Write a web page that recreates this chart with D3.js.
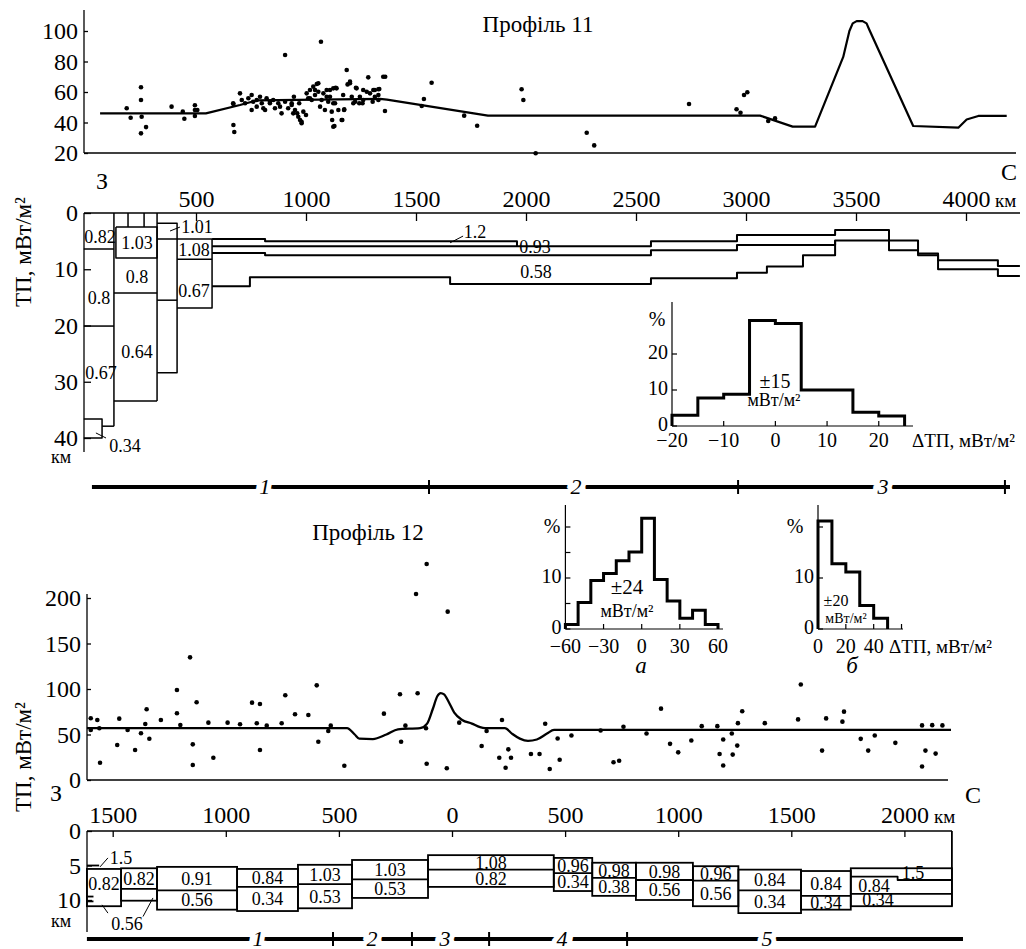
<!DOCTYPE html>
<html lang="uk">
<head>
<meta charset="UTF-8">
<title>Профіль 11, Профіль 12</title>
<script src="https://d3js.org/d3.v7.min.js"></script>
<style>
  body { margin: 0; background: #fff; }
  svg text { font-family: "Liberation Serif", "Times New Roman", serif; fill: #000; }
</style>
</head>
<body>
<div id="chart"></div>
<script>
// ---------- Profile 11 ----------
// heat flow points [km, mW/m2]
const p11Points = [
  [185,49.3],[203,43.1],[250,63.1],[250,54.8],[253,43.8],[250,32.9],[273,37],[389,50.4],[440,47.1],[447,42.5],
  [495,51.3],[495,48.2],[495,44.3],[506,48.2],[670,52.1],[670,38.4],[674,33.8],[700,59.1],[905,84.3],[1068,93],
  [1185,74.4],[1200,66.8],[1283,69.6],[1351,70],[1360,70],[1359,47.5],[1526,50.8],[1536,55.4],[1571,66.1],[1719,44.5],
  [1778,37.9],[1124,37.2],[1162,41.6],[1174,48.6],[1227,62.8],[1245,56.9],[1329,61.8],
  [1980,61.8],[1988,54.8],[2044,19.8],[2276,33.3],[2310,25],[2741,52.1],[2957,48.7],[2975,46.4],[2991,58],[3006,59.8],
  [3101,41],[3132,42.7],
  [669,52.6],[708,54.8],[723,52.6],[738,55.9],[753,58],[753,48.2],[760,53.6],[776,50.4],[791,56.9],[799,52.6],
  [814,48.2],[821,55.9],[836,52.6],[851,54.8],[859,49.3],[874,52.6],[889,46],[905,53.6],[919,49.3],[935,52.6],
  [945,56.9],[950,48.2],[960,46],[969,52.6],[973,41.6],[980,39.5],[988,47.1],[1000,44.9],[1003,59.1],[1010,55.9],
  [1018,61.3],[1026,54.8],[1033,63.5],[1049,65.2],[1041,58],[1056,60.2],[1064,50.4],[1071,54.8],[1079,59.1],[1086,48.2],
  [1094,61.3],[1101,53.6],[1109,56.9],[1117,47.1],[1124,62.4],[1132,52.6],[1135,62.8],[1119,41.6],[1129,37.7],[1165,41.6],
  [1173,48.2],[1169,58],[1189,65],[1200,65.7],[1208,56.9],[1223,53.6],[1230,62.4],[1242,52.6],[1257,52.6],[1260,61.3],
  [1276,60.2],[1291,59.1],[1303,53.6],[1313,61.3],[1329,58],[1333,62],[1313,56.9],
  [776,54.8],[806,49.3],[836,53.6],[882,50.4],[935,51.5],[942,46],[965,43.8],[980,40.5],[1018,55.9],[1041,61.3],
  [1056,65.7],[1094,56.9],[1109,61.3],[1124,52.6],[1139,62.4],[1147,48.2],[1215,52.6],[1260,54.8],[1306,61.3],[1329,54.8]
];
// model curve
const p11Curve = [
  [64,46],[545,46],[700,51.5],[777,54.5],[1336,55.5],[1368,55],[1827,44.5],[3064,44.5],[3212,37.3],[3314,37.3],
  [3442,83],[3470,100],[3485,105],[3503,106.5],[3530,106.5],[3548,105],[3560,101],[3760,37.7],[3965,36.6],[4003,42],
  [4056,44.3],[4185,44.3]
];
const p11DistTicks = [500,1000,1500,2000,2500,3000,3500,4000];
const p11FlowTicks = [20,40,60,80,100];
const p11DepthTicks = [0,10,20,30,40];
// layer boundaries [km, depth km]
const p11Layers = [
  [[127,0],[127,37.9]],
  [[-10,6.4],[127,6.4]],
  [[-10,20.1],[127,20.1]],
  [[-10,36.6],[73,36.6],[73,40],[-10,40]],
  [[73,37.9],[127,37.9]],
  [[136,2.5],[323,2.5],[323,8.0],[136,8.0],[136,2.5]],
  [[191,0],[191,2.5]],[[264,0],[264,2.5]],[[323,0],[323,33.4]],
  [[127,14.2],[323,14.2]],[[127,33.4],[323,33.4]],
  [[323,1.8],[414,1.8],[414,28.4],[323,28.4]],
  [[323,15.5],[414,15.5]],
  [[323,4.6],[573,4.6]],
  [[414,8.2],[573,8.2]],
  [[573,4.6],[573,16.9],[414,16.9]]
];
const p11Deep = [
  [[573,4.6],[814,4.6],[814,5.0],[1959,5.0],[1959,5.9]],
  [[573,5.9],[2568,5.9],[2568,5.0],[2959,5.0],[2959,3.9],[3405,3.9],[3405,3.0],[3650,3.0],[3650,6.6],[3782,6.6],
   [3782,7.5],[3873,7.5],[3873,8.4],[4145,8.4],[4145,9.4],[4245,9.4]],
  [[573,7.1],[814,7.1],[814,7.5],[2568,7.5],[2568,6.6],[2959,6.6],[2959,5.7],[3405,5.7],[3405,4.9],[3782,4.9],
   [3782,7.2],[3873,7.2],[3873,10.0],[4145,10.0],[4145,11.2],[4245,11.2]],
  [[573,13.0],[745,13.0],[745,11.4],[1655,11.4],[1655,12.6],[2568,12.6],[2568,11.6],[2959,11.6],[2959,10.6],
   [3095,10.6],[3095,9.5],[3259,9.5],[3259,7.5],[3405,7.5],[3405,4.9]]
];
const p11LayerLabels = [
  [64,4.3,"0.82"],[232,5.2,"1.03"],[505,2.5,"1.01"],[232,11.4,"0.8"],[491,6.6,"1.08"],[59,15.1,"0.8"],
  [491,13.9,"0.67"],[232,24.7,"0.64"],[68,28.4,"0.67"],[177,41.4,"0.34"],[1768,3.4,"1.2"],[2041,6.0,"0.93"],
  [2045,10.5,"0.58"]
];
const p11Leaders = [
  [[382,3.2],[427,2.5]],[[1655,5.3],[1714,4.1]],[[45,39.1],[91,40]]
];
const p11HistEdges = [-20,-15,-10,-5,0,5,10,15,20,25];
const p11HistValues = [3.0,7.8,8.8,29.3,28.5,10,10,3.8,2.8];
const p11SegTicks = [1559,2964,4177];
const p11SegLabels = [[813,"1"],[2227,"2"],[3623,"3"]];
const p11SegExtent = [27,4200];

// ---------- Profile 12 ----------
const p12Points = [
  [-1597,67.8],[-1597,55],[-1568,66],[-1559,56.8],[-1556,19],[-1480,38.5],[-1471,67.4],[-1434,55],[-1401,33],[-1375,51.3],
  [-1356,61.5],[-1350,77.7],[-1338,45.4],[-1287,66],[-1216,98.9],[-1216,73.3],[-1201,60.4],[-1158,134.8],[-1146,39.2],[-1146,16.5],
  [-1129,85.4],[-1077,63],[-1055,24.5],[-992,63],[-937,61.2],[-884,85],[-863,62.3],[-849,83.5],[-849,33],[-819,59.7],
  [-753,62.3],[-737,93.1],[-694,72.2],[-635,71.4],[-598,104],[-591,42.1],[-547,53.9],[-536,59.7],[-476,15.7],[-301,72.9],
  [-230,94.2],[-225,42.1],[-206,59.7],[-159,204.4],[-152,95.3],[-112,237.4],[-115,56.8],[-112,17.9],[-23,12.9],[-19,185],
  [32,63],[131,37.4],[153,53.9],[209,24.5],[221,66],[237,13.5],[249,33.7],[261,24.5],[349,28.6],[387,28.6],
  [412,61.8],[432,12.1],[467,45.6],[476,22.3],[528,48.9],[657,54.4],[714,19.5],[739,21.2],[758,58.5],[860,51.1],
  [924,78.4],[964,39.7],[1000,30.4],[1058,43.4],[1104,59.2],[1173,59.2],[1183,28.6],[1199,44.5],[1199,16],[1237,51.1],
  [1241,27.9],[1261,37.8],[1264,62.5],[1283,75.5],[1383,62.5],[1542,105],[1530,66.6],[1636,32.3],[1654,67.7],[1726,64.1],
  [1733,75.1],[1807,45.2],[1840,32.3],[1869,48.9],[1960,40.8],[2078,60],[2078,14.9],[2093,32.3],[2123,60.3],[2138,29],
  [2168,60]
];
const p12Curve = [
  [-1614,57],[-464,57],[-430,50],[-410,45.5],[-350,45],[-290,50],[-239,55.7],[-141,57],[-110,62],[-85,78],
  [-65,92],[-50,95.5],[-35,94],[-15,86],[10,74],[45,66],[88,62],[124,58],[146,57],[234,57],
  [265,51],[300,45.5],[336,43],[375,44.5],[420,51],[451,55],[2206,55]
];
const p12DistTicks = [-1500,-1000,-500,0,500,1000,1500,2000];
const p12FlowTicks = [0,50,100,150,200];
const p12DepthTicks = [0,5,10];
// crustal columns
const p12ColFrom  = [-1614,-1463,-1304,-950,-681,-442,-106,450,620,813,1065,1266,1543,1763];
const p12ColTo    = [-1463,-1304,-950,-681,-442,-106,450,620,813,1065,1266,1543,1763,2210];
const p12ColTop   = [5.5,5.4,5.2,5.5,4.9,4.2,3.5,3.9,4.6,4.6,5.1,5.6,5.8,5.4];
const p12ColMid   = [null,8.4,8.6,8.1,7.7,7.0,5.6,6.1,6.8,7.1,7.2,8.6,9.4,9.1];
const p12ColBot   = [10.9,10.1,11.4,11.6,11.2,9.7,8.1,8.7,9.4,10.0,10.9,11.9,11.4,10.9];
const p12ColUpper = ["0.82","0.82","0.91","0.84","1.03","1.03","1.08","0.96","0.98","0.98","0.96","0.84","0.84",""];
const p12ColLower = ["","","0.56","0.34","0.53","0.53","0.82","0.34","0.38","0.56","0.56","0.34","0.34",""];
const p12Extra = [
  [[-1614,5.0],[-1560,5.0]],[[-1614,9.5],[-1585,9.5]],[[-1614,10.2],[-1585,10.2]],
  [[1763,6.6],[1970,6.6],[1970,7.1],[2210,7.1]],
  [[2210,0],[2210,10.9]]
];
const p12ExtraLabels = [[-1463,3.8,"1.5"],[-1437,13.4,"0.56"],[1866,7.9,"0.84"],[1883,10.0,"0.34"],[2038,6.1,"1.5"]];
const p12Leaders = [[[-1556,5.2],[-1521,3.9]],[[-1547,10.7],[-1521,11.9]],[[-1322,9.7],[-1366,12.4]]];
const p12HistAEdges = [-60,-50,-40,-30,-20,-10,0,10,20,30,40,50,60];
const p12HistAValues = [0.9,5.2,9.5,10.9,13.4,15.1,21.7,9.7,5.5,2.1,3.7,0.9];
const p12HistBEdges = [0,10,20,30,40,50];
const p12HistBValues = [21.2,12.8,11.2,4.6,2.1];
const p12SegTicks = [-526,-177,164,774];
const p12SegLabels = [[-858,"1"],[-354,"2"],[-31,"3"],[486,"4"],[1393,"5"]];
const p12SegExtent = [-1614,2259];

// ---------- drawing ----------
const svg = d3.select("#chart").append("svg").attr("width", 1026).attr("height", 949);
const FONT = '"Liberation Serif", "Times New Roman", serif';
const TICK = 24;

const x11 = d3.scaleLinear().domain([0, 4000]).range([86, 966]);
const yA = d3.scaleLinear().domain([20, 100]).range([153, 31]);
const yB = d3.scaleLinear().domain([0, 40]).range([213, 438]);
const x12 = d3.scaleLinear().domain([0, 2000]).range([452, 904.4]);
const yC = d3.scaleLinear().domain([0, 200]).range([780, 598]);
const yD = d3.scaleLinear().domain([0, 10]).range([831, 900]);

function hline(x1, x2, y, w) {
  svg.append("line").attr("x1", x1).attr("x2", x2).attr("y1", y).attr("y2", y)
    .attr("stroke", "#000").attr("stroke-width", w || 1.3);
}
function vline(x, y1, y2, w) {
  svg.append("line").attr("x1", x).attr("x2", x).attr("y1", y1).attr("y2", y2)
    .attr("stroke", "#000").attr("stroke-width", w || 1.3);
}
function label(x, y, t, size, anchor, extra) {
  const el = svg.append("text").attr("x", x).attr("y", y).attr("font-size", size)
    .attr("text-anchor", anchor || "middle").text(t);
  if (extra) extra(el);
  return el;
}
function poly(pts, xs, ys, w, curve) {
  const line = d3.line().x(d => xs(d[0])).y(d => ys(d[1]));
  if (curve) line.curve(curve);
  svg.append("path").attr("d", line(pts)).attr("fill", "none")
    .attr("stroke", "#000").attr("stroke-width", w).attr("stroke-linejoin", "round");
}
function styleAxis(g, size) {
  g.attr("font-size", size).attr("font-family", FONT);
  g.select(".domain").remove();
  g.selectAll("line").attr("stroke-width", 1.3);
}
const minus = d => (d < 0 ? "\u2212" + Math.abs(d) : String(d));
const plain = d3.format("d");

// ===== Panel A: profile 11 heat flow =====
label(538, 32, "Профіль 11", 23);
svg.append("g").attr("transform", "translate(84,0)")
  .call(d3.axisLeft(yA).tickValues(p11FlowTicks).tickSizeInner(-4).tickSizeOuter(0).tickPadding(6))
  .call(g => styleAxis(g, TICK));
vline(84, 10, 153);
hline(84, 1016, 153);
poly(p11Curve, x11, yA, 2.2);
svg.append("g").selectAll("circle").data(p11Points).join("circle")
  .attr("cx", d => x11(d[0])).attr("cy", d => yA(d[1])).attr("r", 2.3).attr("fill", "#000");
label(102, 189, "З", 24);
label(1009, 180, "С", 24);

// y label for top panels
label(31, 252, "ТП, мВт/м²", 23, "middle", el => el.attr("transform", "rotate(-90,31,252)"));

// ===== Panel B: profile 11 layers =====
svg.append("g").attr("transform", "translate(0,213)")
  .call(d3.axisTop(x11).tickValues(p11DistTicks).tickFormat(plain)
    .tickSizeInner(-8).tickSizeOuter(0).tickPadding(6))
  .call(g => styleAxis(g, TICK));
label(995, 207, "км", 19, "start");
hline(84, 1020, 213);
svg.append("g").attr("transform", "translate(84,0)")
  .call(d3.axisLeft(yB).tickValues(p11DepthTicks).tickSizeInner(-7).tickSizeOuter(0).tickPadding(6))
  .call(g => styleAxis(g, TICK));
vline(84, 213, 452);
label(61, 463, "км", 18);
p11Layers.forEach(p => poly(p, x11, yB, 1.5));
p11Deep.forEach(p => poly(p, x11, yB, 2));
p11Leaders.forEach(p => poly(p, x11, yB, 1));
p11LayerLabels.forEach(d => label(x11(d[0]), yB(d[1]), d[2], 18, "middle", el => el.attr("dy", "0.35em")));

// inset histogram (profile 11)
function histogram(edges, values, xs, ys, w) {
  const pts = [[edges[0], 0]];
  values.forEach((v, i) => { pts.push([edges[i], v]); pts.push([edges[i + 1], v]); });
  pts.push([edges[edges.length - 1], 0]);
  svg.append("path").attr("d", d3.line().x(d => xs(d[0])).y(d => ys(d[1]))(pts))
    .attr("fill", "none").attr("stroke", "#000").attr("stroke-width", w).attr("stroke-linejoin", "miter");
}
function insetAxes(xs, ys, xTicks, xLabels, yTicks, yLabels, xEnd, yTop, fs, labelY) {
  const x0 = xs.range()[0], y0 = ys.range()[0];
  hline(x0, xEnd, y0, 1.2);
  vline(x0, y0, yTop, 1.2);
  xTicks.forEach(t => vline(xs(t), y0, y0 - 5, 1.2));
  yTicks.forEach(t => hline(x0, x0 + 5, ys(t), 1.2));
  xLabels.forEach(t => label(xs(t), labelY, minus(t), fs));
  yLabels.forEach(t => label(x0 - 4, ys(t) - 2, String(t), fs, "end", el => el.attr("dy", "0.35em")));
}
const xH1 = d3.scaleLinear().domain([-20, 25]).range([672, 904.6]);
const yH1 = d3.scaleLinear().domain([0, 30]).range([426, 318]);
insetAxes(xH1, yH1, [-20,-10,0,10,20], [-20,-10,0,10,20], [0,10,20], [0,10,20], 913, 302, 20, 447);
histogram(p11HistEdges, p11HistValues, xH1, yH1, 3);
label(657, 326, "%", 20);
label(912, 447, "ΔТП, мВт/м²", 19, "start");
label(775, 388, "±15", 20);
label(774, 406, "мВт/м²", 18);

// segment bar
function segBar(extent, ticks, labels, xs, y) {
  hline(xs(extent[0]), xs(extent[1]), y, 4);
  ticks.forEach(t => vline(xs(t), y - 7, y + 7, 2));
  labels.forEach(d => label(xs(d[0]), y + 7, d[1], 22, "middle", el => el
    .attr("font-style", "italic").attr("stroke", "#fff").attr("stroke-width", 10)
    .attr("paint-order", "stroke")));
}
segBar(p11SegExtent, p11SegTicks, p11SegLabels, x11, 487);

// ===== Panel C: profile 12 heat flow =====
label(368, 540, "Профіль 12", 23);
svg.append("g").attr("transform", "translate(87,0)")
  .call(d3.axisLeft(yC).tickValues(p12FlowTicks).tickSizeInner(-4).tickSizeOuter(0).tickPadding(6))
  .call(g => styleAxis(g, TICK));
vline(87, 594, 780);
hline(87, 948, 780);
poly(p12Curve, x12, yC, 2.3, d3.curveMonotoneX);
svg.append("g").selectAll("circle").data(p12Points).join("circle")
  .attr("cx", d => x12(d[0])).attr("cy", d => yC(d[1])).attr("r", 2.3).attr("fill", "#000");
label(31, 757, "ТП, мВт/м²", 23, "middle", el => el.attr("transform", "rotate(-90,31,757)"));
label(56, 801, "З", 24);
label(973, 803, "С", 24);

// insets a, б
const xHA = d3.scaleLinear().domain([-60, 60]).range([565.4, 718]);
const yHA = d3.scaleLinear().domain([0, 20]).range([629, 527]);
insetAxes(xHA, yHA, [-60,-30,0,30,60], [-60,-30,0,30,60], [0,5,10,15,20], [0,10], 723, 505, 20, 653);
histogram(p12HistAEdges, p12HistAValues, xHA, yHA, 3);
label(552, 533, "%", 20);
label(627, 594, "±24", 21);
label(627, 617, "мВт/м²", 18);
label(641, 673, "а", 23, "middle", el => el.attr("font-style", "italic"));

const xHB = d3.scaleLinear().domain([0, 50]).range([818, 887.6]);
const yHB = d3.scaleLinear().domain([0, 20]).range([629, 527]);
insetAxes(xHB, yHB, [0,20,40,60], [0,20,40], [0,10,20], [0,10], 903, 505, 20, 653);
histogram(p12HistBEdges, p12HistBValues, xHB, yHB, 3);
label(795, 533, "%", 20);
label(889, 653, "ΔТП, мВт/м²", 19, "start");
label(836, 606, "±20", 16);
label(846, 623, "мВт/м²", 14);
label(852, 673, "б", 23, "middle", el => el.attr("font-style", "italic"));

// ===== Panel D: profile 12 layers =====
svg.append("g").attr("transform", "translate(0,831)")
  .call(d3.axisTop(x12).tickValues(p12DistTicks).tickFormat(d => Math.abs(d))
    .tickSizeInner(-6).tickSizeOuter(0).tickPadding(8))
  .call(g => styleAxis(g, TICK));
label(934, 823, "км", 19, "start");
hline(87, 952, 831);
svg.append("g").attr("transform", "translate(87,0)")
  .call(d3.axisLeft(yD).tickValues(p12DepthTicks).tickSizeInner(-5).tickSizeOuter(0).tickPadding(6))
  .call(g => styleAxis(g, TICK));
vline(87, 831, 932);
label(61, 927, "км", 18);

p12ColFrom.forEach((from, i) => {
  const to = p12ColTo[i];
  svg.append("rect")
    .attr("x", x12(from)).attr("y", yD(p12ColTop[i]))
    .attr("width", x12(to) - x12(from)).attr("height", yD(p12ColBot[i]) - yD(p12ColTop[i]))
    .attr("fill", "none").attr("stroke", "#000").attr("stroke-width", 1.8);
  if (p12ColMid[i] !== null) hline(x12(from), x12(to), yD(p12ColMid[i]), 1.8);
  const cx = (x12(from) + x12(to)) / 2;
  const midUp = p12ColMid[i] === null ? p12ColBot[i] - 1.2 : p12ColMid[i];
  if (p12ColUpper[i]) label(cx, yD((p12ColTop[i] + midUp) / 2), p12ColUpper[i], 18, "middle", el => el.attr("dy", "0.35em"));
  if (p12ColLower[i]) label(cx, yD((p12ColMid[i] + p12ColBot[i]) / 2), p12ColLower[i], 18, "middle", el => el.attr("dy", "0.35em"));
});
p12Extra.forEach(p => poly(p, x12, yD, 1.8));
p12Leaders.forEach(p => poly(p, x12, yD, 1));
p12ExtraLabels.forEach(d => label(x12(d[0]), yD(d[1]), d[2], 18, "middle", el => el.attr("dy", "0.35em")));

segBar(p12SegExtent, p12SegTicks, p12SegLabels, x12, 939);
</script>
</body>
</html>
